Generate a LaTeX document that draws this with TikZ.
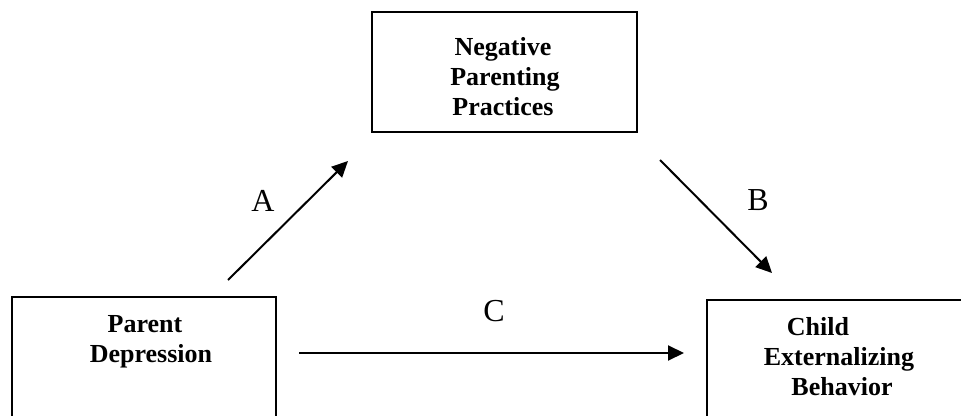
\documentclass[tikz,border=0pt]{standalone}
\usepackage{fontspec}
\setmainfont{Liberation Serif}
\usetikzlibrary{arrows.meta}
\tikzset{
  boxshape/.style={draw, line width=2pt, rectangle, inner sep=0pt},
  boxtext/.style={font=\fontsize{26}{30}\selectfont\bfseries, inner sep=0pt, anchor=base},
  lab/.style={font=\fontsize{32}{36}\selectfont, inner sep=0pt, anchor=center},
  arr/.style={line width=2pt, -{Triangle[length=16pt,width=15pt]}}
}
\begin{document}
\begin{tikzpicture}[x=1pt,y=-1pt]
\useasboundingbox (0,0) rectangle (961,415);
\clip (0,0) rectangle (961,415);
\fill[white] (0,0) rectangle (961,415);
% boxes
\node[boxshape, minimum width=265pt, minimum height=120pt] (top) at (504.5,72) {};
\node[boxshape, minimum width=264pt, minimum height=150pt] (left) at (144,372) {};
\node[boxshape, minimum width=300pt, minimum height=150pt] (right) at (857,375) {};
% box texts
\node[boxtext] (t1) at (503,55) {Negative};
\node[boxtext] (t2) at (505,85) {Parenting};
\node[boxtext] (t3) at (503,115) {Practices};
\node[boxtext] (l1) at (145,332) {Parent};
\node[boxtext] (l2) at (151,362) {Depression};
\node[boxtext] (r1) at (818,335) {Child};
\node[boxtext] (r2) at (839,365) {Externalizing};
\node[boxtext] (r3) at (842,395) {Behavior};
% connector ends
\coordinate (aS) at (228,280);
\coordinate (aE) at (348,161);
\coordinate (bS) at (660,160);
\coordinate (bE) at (772,273);
\coordinate (cS) at (299,353);
\coordinate (cE) at (684,353);
\draw[arr] (aS) -- (aE);
\draw[arr] (bS) -- (bE);
\draw[arr] (cS) -- (cE);
% labels
\node[lab] (A) at (263,201) {A};
\node[lab] (B) at (758,200) {B};
\node[lab] (C) at (494,311) {C};
\end{tikzpicture}
\end{document}
